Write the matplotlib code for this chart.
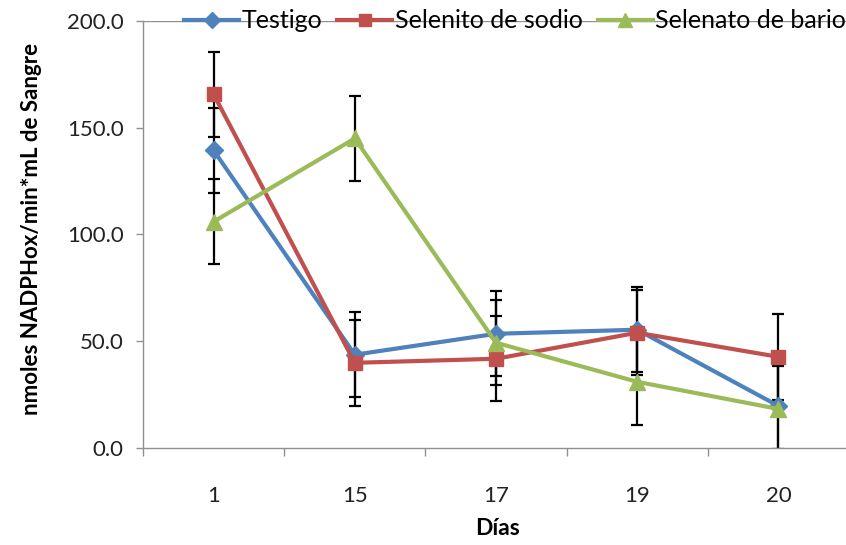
import numpy as np
import matplotlib
matplotlib.use("Agg")
import matplotlib.pyplot as plt

# data
dias = ["1", "15", "17", "19", "20"]
testigo = [139.4, 43.7, 53.5, 55.4, 19.7]
selenito = [165.7, 39.9, 41.8, 54.0, 42.7]
selenato = [106.0, 145.0, 49.3, 31.0, 18.3]
error = 20.0  # fixed error bar value used for every point

series = [
    ("Testigo", testigo, "#4F81BD", "D", 9),
    ("Selenito de sodio", selenito, "#C0504D", "s", 10),
    ("Selenato de bario", selenato, "#9BBB59", "^", 11),
]

plt.rcParams["font.family"] = ["Lato", "DejaVu Sans"]

fig = plt.figure(figsize=(8.46, 5.45), dpi=100)
ax = fig.add_axes([143 / 846, 1 - 448 / 545, 706 / 846, 427 / 545])

x = np.arange(len(dias))

# error bars first so the markers sit on top of them
for name, vals, color, marker, ms in series:
    ax.errorbar(x, vals, yerr=error, fmt="none", ecolor="black",
                elinewidth=1.6, capsize=4.3, capthick=1.6, zorder=2)

for name, vals, color, marker, ms in series:
    ax.plot(x, vals, color=color, linewidth=3, marker=marker,
            markersize=ms, markeredgecolor=color, label=name, zorder=3)

ax.set_xlim(-0.5, len(dias) - 0.5)
ax.set_ylim(0, 200)

# category axis: ticks between categories, labels centred
ax.set_xticks(np.arange(-0.5, len(dias)), minor=False)
ax.set_xticklabels([""] * (len(dias) + 1))
ax.set_xticks(x, minor=True)
ax.set_xticklabels(dias, minor=True, fontsize=16, color="#222222")
ax.tick_params(axis="x", which="minor", length=0, pad=27)
ax.tick_params(axis="x", which="major", length=6, width=1, color="#909090",
               direction="out")

ax.set_yticks(np.arange(0, 201, 50))
ax.set_yticklabels([f"{v:.1f}" for v in np.arange(0, 201, 50)],
                   fontsize=16, color="#222222")
ax.tick_params(axis="y", length=5, width=1, color="#909090", pad=9)

ax.axhline(200, color="#909090", linewidth=1, zorder=1)

for side in ["top", "right"]:
    ax.spines[side].set_visible(False)
for side in ["left", "bottom"]:
    ax.spines[side].set_color("#909090")
    ax.spines[side].set_linewidth(1)

ax.set_ylabel("nmoles NADPHox/min*mL de Sangre", fontsize=16,
              fontweight="bold")
ax.set_xlabel("Días", fontsize=16.5, fontweight="bold")
ax.yaxis.set_label_coords(-(143 - 42) / 706, (448 - 229) / 427)
ax.xaxis.set_label_coords((497 - 143) / 706, -(518 - 448) / 427)

fig.legend(loc="center", bbox_to_anchor=(515 / 846, 1 - 21 / 545), ncol=3,
           frameon=False, fontsize=18, handlelength=2.2, handletextpad=0.1,
           columnspacing=0.6, markerscale=0.9)

fig.savefig("out.png", dpi=100)
